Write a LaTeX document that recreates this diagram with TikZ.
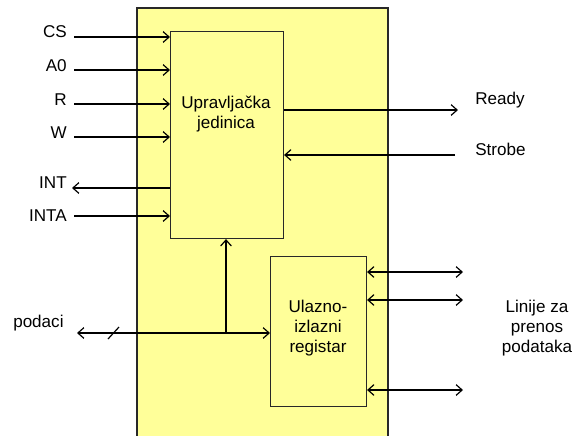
\documentclass[tikz,border=0pt]{standalone}
\usepackage{fontspec}
\setmainfont{Liberation Sans}
\usetikzlibrary{arrows.meta,positioning}
\definecolor{blockfill}{RGB}{255,255,153}
\definecolor{edgegray}{RGB}{40,40,40}

\begin{document}
\begin{tikzpicture}[x=0.75pt,y=0.75pt,yscale=-1,xscale=1,
	sig/.style={-{Straight Barb[length=4.5pt,width=8pt,line width=0.9pt]},line width=1.1pt},
	bisig/.style={{Straight Barb[length=4.5pt,width=8pt,line width=0.9pt]}-{Straight Barb[length=4.5pt,width=8pt,line width=0.9pt]},line width=1.1pt},
	unitbox/.style={draw=edgegray,line width=0.8pt,fill=blockfill,inner sep=0pt,anchor=north west},
	lbl/.style={inner sep=0pt,font=\fontsize{12.8pt}{15pt}\selectfont,align=center}]
	\useasboundingbox (0,0) rectangle (572,436);
	
	%Shape: outer block
	\fill [blockfill] (137,8) rectangle (388,436);
	\draw [edgegray,line width=0.8pt] (137,436) -- (137,8) -- (388,8) -- (388,436);
	
	%Shape: Upravljacka jedinica
	\node [unitbox,minimum width=84.75pt,minimum height=155.25pt] (cu) at (170,31) {};
	\node [lbl] (cutext) at (226,114) {Upravljačka\\jedinica};
	%Shape: Ulazno-izlazni registar
	\node [unitbox,minimum width=72pt,minimum height=112.5pt] (reg) at (270,256) {};
	\node [lbl] (regtext) at (318,328) {Ulazno-\\izlazni\\registar};
	
	% Inputs
	\foreach \nm/\txt/\yy/\dy in {cs/CS/37/5, a0/A0/70/4, r/R/104/4, w/W/137/4, inta/INTA/216/0} {
		\node [lbl,anchor=east] (\nm) at (67,\yy-\dy) {\txt};
		\coordinate (\nm-in) at (74,\yy);
		\draw [sig] (\nm-in) -- (\nm-in -| cu.west);
	}
	% INT
	\node [lbl,anchor=east] (int) at (67,183) {INT};
	\coordinate (int-out) at (72,188);
	\draw [sig] (int-out -| cu.west) -- (int-out);
	
	% Ready / Strobe
	\node [lbl,anchor=west] (ready) at (475,100) {Ready};
	\coordinate (ready-out) at (458,110);
	\draw [sig] (ready-out -| cu.east) -- (ready-out);
	\node [lbl,anchor=west] (strobe) at (475,149) {Strobe};
	\coordinate (strobe-in) at (455,155);
	\draw [sig] (strobe-in) -- (strobe-in -| cu.east);
	
	% podaci
	\node [lbl,anchor=west] (podaci) at (13,323) {podaci};
	\coordinate (pod-end) at (77,333);
	\coordinate (pod-fork) at (226,333);
	\draw [sig] (pod-fork) -- (pod-end);
	\draw [sig] (pod-fork) -- (pod-fork -| reg.west);
	\draw [sig] (pod-fork) -- (cu.south -| pod-fork);
	\draw [line width=0.9pt] (108,339) -- (119,327);
	
	% Linije za prenos podataka
	\node [lbl] (linije) at (537,328) {Linije za\\prenos\\podataka};
	\foreach \yy in {272,300,390} {
		\coordinate (line-\yy) at (463,\yy);
		\draw [bisig] (line-\yy -| reg.east) -- (line-\yy);
	}
	
\end{tikzpicture}
\end{document}
